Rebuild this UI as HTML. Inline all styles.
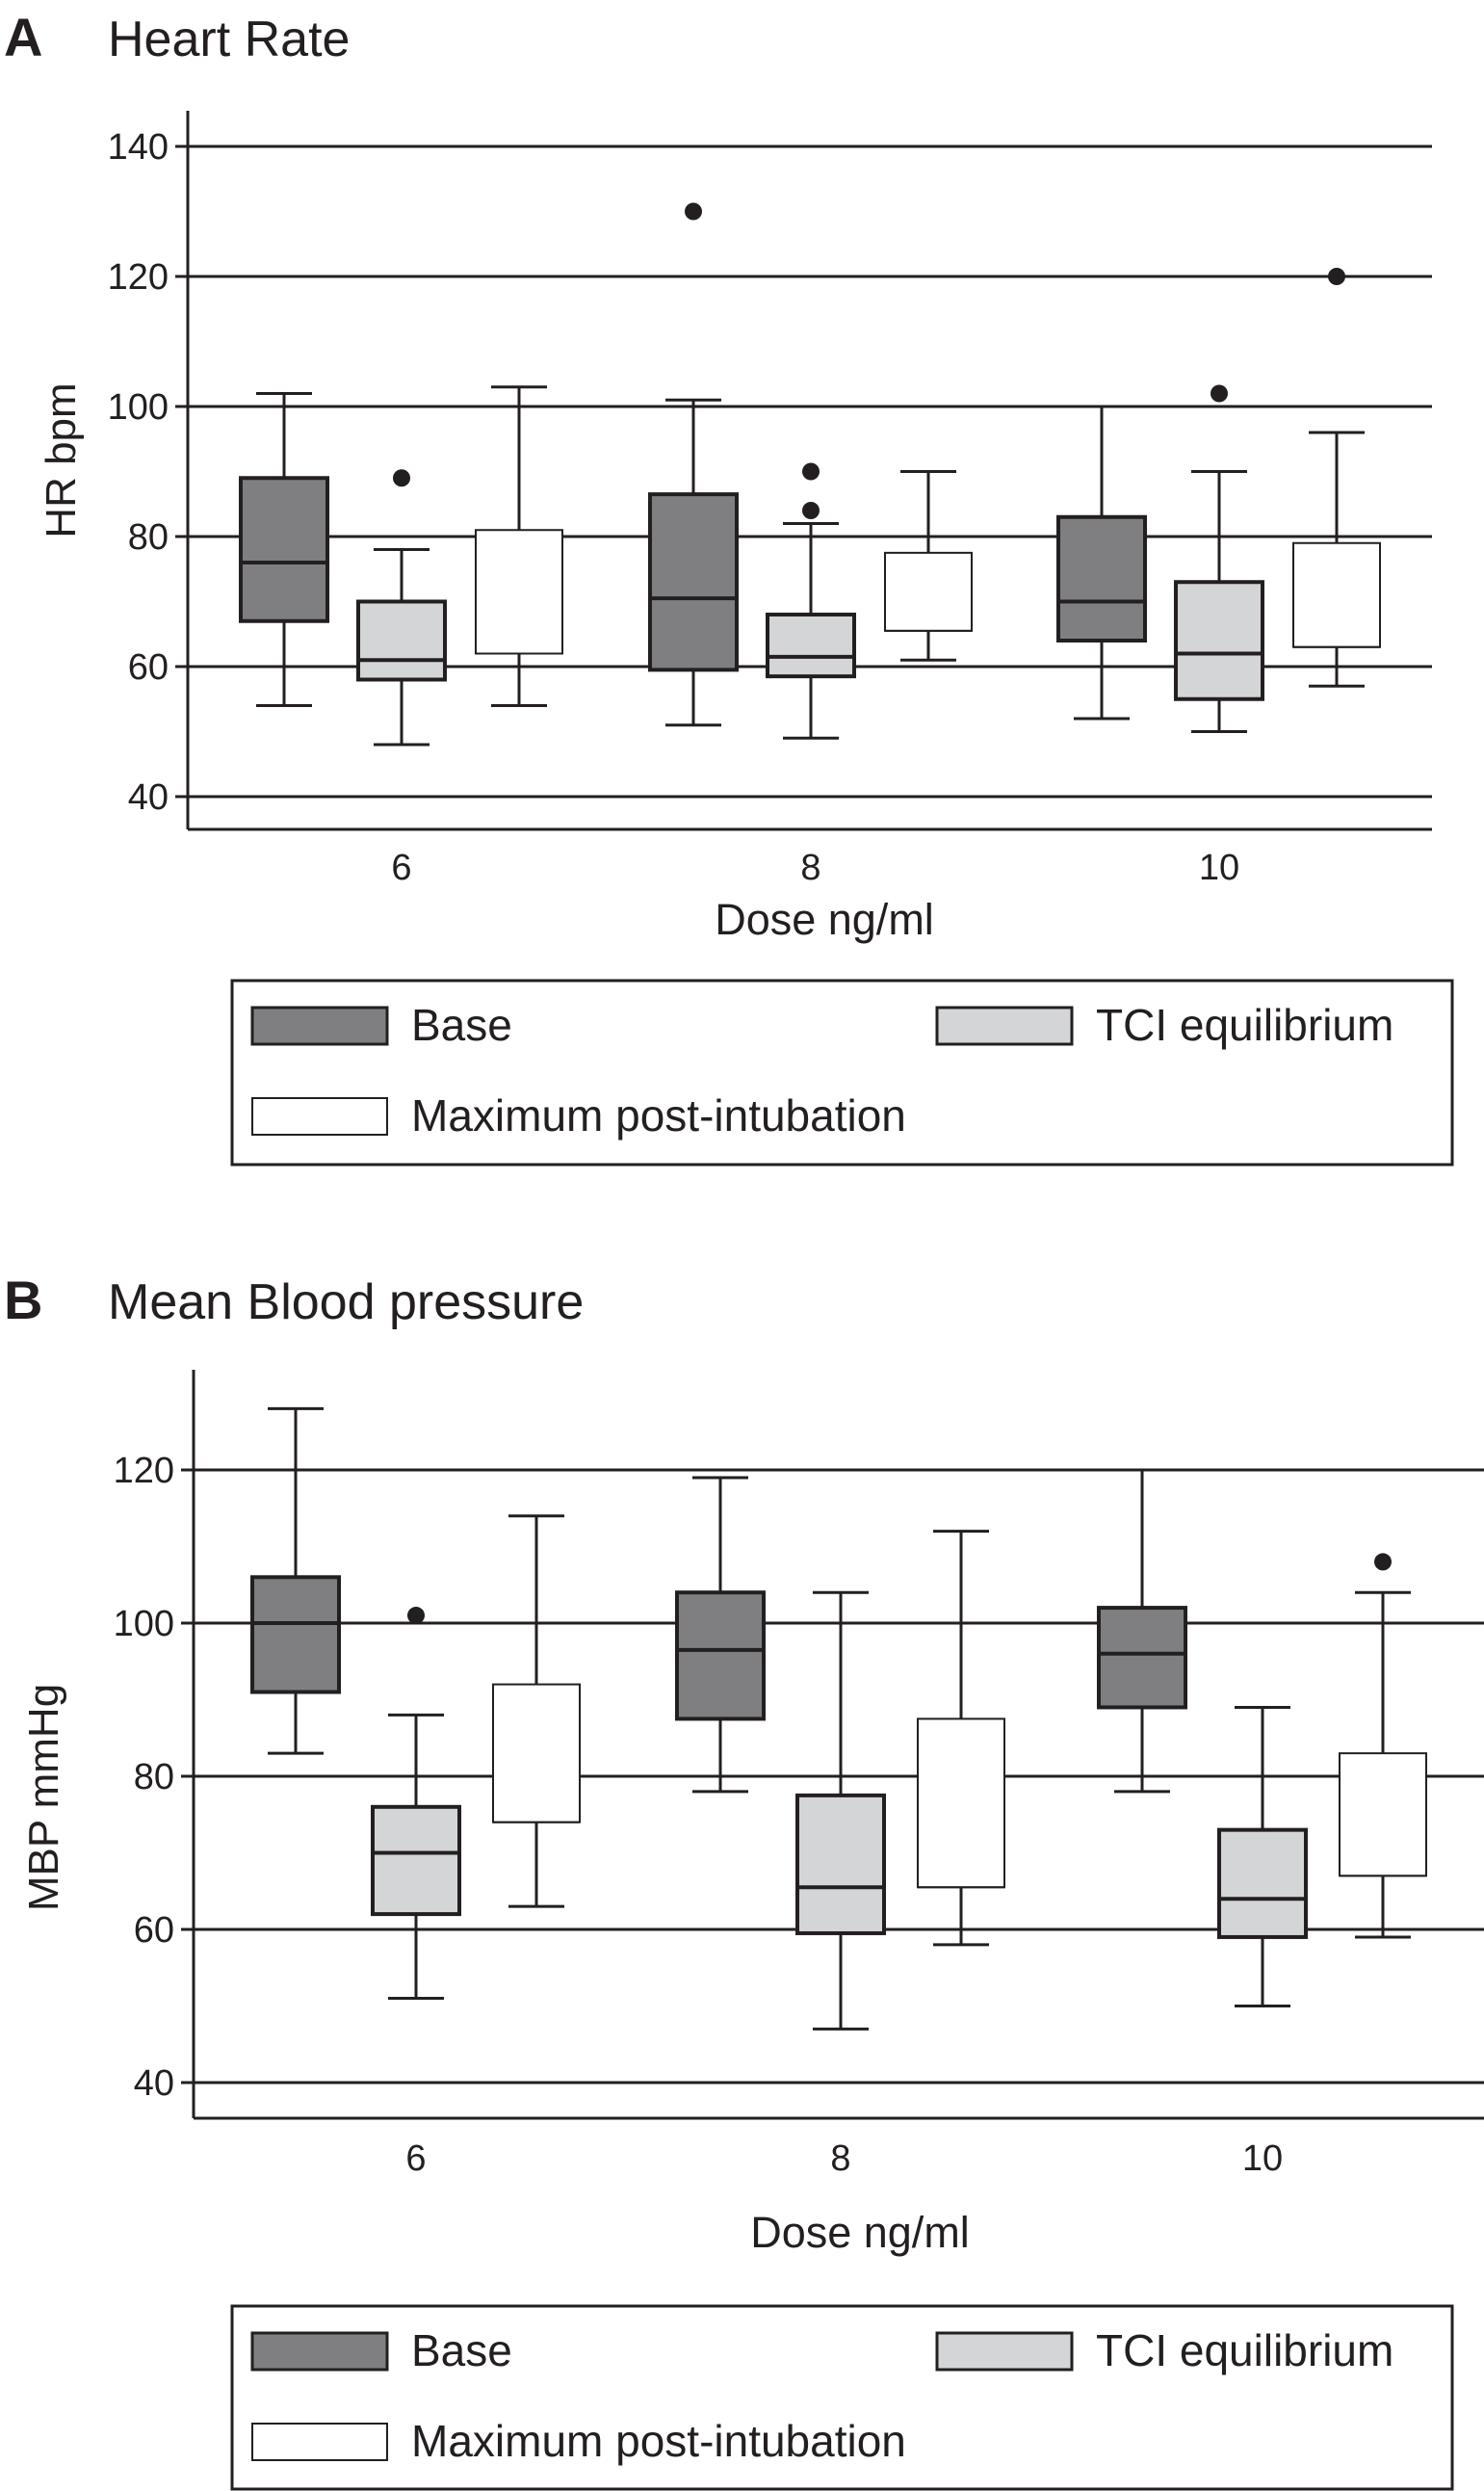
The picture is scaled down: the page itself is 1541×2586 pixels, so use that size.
<!DOCTYPE html>
<html><head><meta charset="utf-8"><style>
html,body{margin:0;padding:0;background:#fff;}
svg{display:block;font-family:"Liberation Sans",Arial,sans-serif;}
</style></head><body>
<svg id="fig" width="1541" height="2586" viewBox="0 0 1541 2586" xmlns="http://www.w3.org/2000/svg"></svg>
<script>
const groups = ["6","8","10"];
const seriesNames = ["Base","TCI equilibrium","Maximum post-intubation"];
const hrTicks = [40,60,80,100,120,140];
// each entry: [min, q1, median, q3, max]
const hrBase = [[54,67,76,89,102],[51,59.5,70.5,86.5,101],[52,64,70,83,100]];
const hrTci  = [[48,58,61,70,78],[49,58.5,61.5,68,82],[50,55,62,73,90]];
const hrMax  = [[54,62,62,81,103],[61,65.5,65.5,77.5,90],[57,63,63,79,96]];
const hrOutBase = [[],[130],[]];
const hrOutTci  = [[89],[84,90],[102]];
const hrOutMax  = [[],[],[120]];
const bpTicks = [40,60,80,100,120];
const bpBase = [[83,91,100,106,128],[78,87.5,96.5,104,119],[78,89,96,102,120]];
const bpTci  = [[51,62,70,76,88],[47,59.5,65.5,77.5,104],[50,59,64,73,89]];
const bpMax  = [[63,74,74,92,114],[58,65.5,65.5,87.5,112],[59,67,67,83,104]];
const bpOutBase = [[],[],[]];
const bpOutTci  = [[101],[],[]];
const bpOutMax  = [[],[],[108]];

const NS="http://www.w3.org/2000/svg";
const svg=document.getElementById('fig');
function el(tag,attrs,parent,text){const e=document.createElementNS(NS,tag);for(const k in attrs)e.setAttribute(k,attrs[k]);if(text!==undefined)e.textContent=text;(parent||svg).appendChild(e);return e;}
const fills=["#7f7f82","#d4d5d7","#ffffff"];

function panel(cfg){
  const g=el('g',{});
  
  
  const y=v=>cfg.y0+(v-cfg.v0)*(cfg.y1-cfg.y0)/(cfg.v1-cfg.v0);
  const t1=el('text',{x:4,y:cfg.titleY,'font-size':56,'font-weight':'bold',fill:'#231f20'},g,cfg.letter);
  
  const t2=el('text',{x:112,y:cfg.titleY,'font-size':52,fill:'#231f20'},g,cfg.title);
  
  cfg.ticks.forEach(v=>{
    const l=el('line',{x1:cfg.axX-13,x2:cfg.gridR,y1:y(v),y2:y(v),stroke:'#231f20','stroke-width':3},g);
    
    const t=el('text',{x:cfg.axX-20,y:y(v)+13,'font-size':38,'text-anchor':'end',fill:'#231f20'},g,String(v));
    
  });
  const ya=el('line',{x1:cfg.axX,x2:cfg.axX,y1:cfg.axTop,y2:cfg.axBot,stroke:'#231f20','stroke-width':3},g);
  
  const xa=el('line',{x1:cfg.axX,x2:cfg.gridR,y1:cfg.axBot,y2:cfg.axBot,stroke:'#231f20','stroke-width':3},g);
  
  const yt=el('text',{x:0,y:0,'font-size':44,'text-anchor':'middle',fill:'#231f20',transform:`translate(${cfg.ytX},${cfg.ytY}) rotate(-90)`},g,cfg.ytitle);
  
  groups.forEach((lab,i)=>{
    const t=el('text',{x:cfg.centers[i],y:cfg.xlY,'font-size':38,'text-anchor':'middle',fill:'#231f20'},g,lab);
    
  });
  const xt=el('text',{x:cfg.xtX,y:cfg.xtY,'font-size':45,'text-anchor':'middle',fill:'#231f20'},g,'Dose ng/ml');
  
  const offs=[-cfg.off,0,cfg.off];
  cfg.series.forEach((ser,s)=>{
    ser.forEach((d,i)=>{
      const cx=cfg.centers[i]+offs[s], w=90, cw=58;
      const bg=el('g',{},g);
      
      
      el('line',{x1:cx,x2:cx,y1:y(d[0]),y2:y(d[4]),stroke:'#231f20','stroke-width':3},bg);
      el('line',{x1:cx-cw/2,x2:cx+cw/2,y1:y(d[0]),y2:y(d[0]),stroke:'#231f20','stroke-width':3},bg);
      el('line',{x1:cx-cw/2,x2:cx+cw/2,y1:y(d[4]),y2:y(d[4]),stroke:'#231f20','stroke-width':3},bg);
      el('rect',{x:cx-w/2,y:y(d[3]),width:w,height:y(d[1])-y(d[3]),fill:fills[s],stroke:'#231f20','stroke-width':s==2?2:4},bg);
      el('line',{x1:cx-w/2,x2:cx+w/2,y1:y(d[2]),y2:y(d[2]),stroke:'#231f20','stroke-width':s==2?2:4},bg);
      cfg.outs[s][i].forEach(v=>{
        const c=el('circle',{cx:cx,cy:y(v),r:9,fill:'#231f20'},g);
        
      });
    });
  });
  const L=el('g',{},g);
  
  el('rect',{x:241,y:cfg.legY,width:1267,height:cfg.legH,fill:'none',stroke:'#231f20','stroke-width':3},L);
  const ents=[[262,cfg.legY+28,0],[973,cfg.legY+28,1],[262,cfg.legY+122,2]];
  ents.forEach(([x,yy,s])=>{
    const e=el('g',{},L);
    
    
    el('rect',{x:x,y:yy,width:140,height:38,fill:fills[s],stroke:'#231f20','stroke-width':s==2?2:3},e);
    el('text',{x:x+165,y:yy+34,'font-size':46,fill:'#231f20'},e,seriesNames[s]);
  });
}

panel({name:'heart-rate-panel',letter:'A',title:'Heart Rate',titleY:58,v0:40,v1:140,y0:827,y1:152,
  ticks:hrTicks,axX:195,axTop:115,axBot:861,gridR:1487,ytitle:'HR bpm',ytX:78,ytY:478,
  centers:[417,842,1266],off:122,xlY:913,xtX:856,xtY:970,
  series:[hrBase,hrTci,hrMax],outs:[hrOutBase,hrOutTci,hrOutMax],legY:1018,legH:191});
panel({name:'blood-pressure-panel',letter:'B',title:'Mean Blood pressure',titleY:1369,v0:40,v1:120,y0:2162,y1:1526,
  ticks:bpTicks,axX:201,axTop:1422,axBot:2199,gridR:1541,ytitle:'MBP mmHg',ytX:60,ytY:1866,
  centers:[432,873,1311],off:125,xlY:2253,xtX:893,xtY:2333,
  series:[bpBase,bpTci,bpMax],outs:[bpOutBase,bpOutTci,bpOutMax],legY:2394,legH:190});
</script>
</body></html>
